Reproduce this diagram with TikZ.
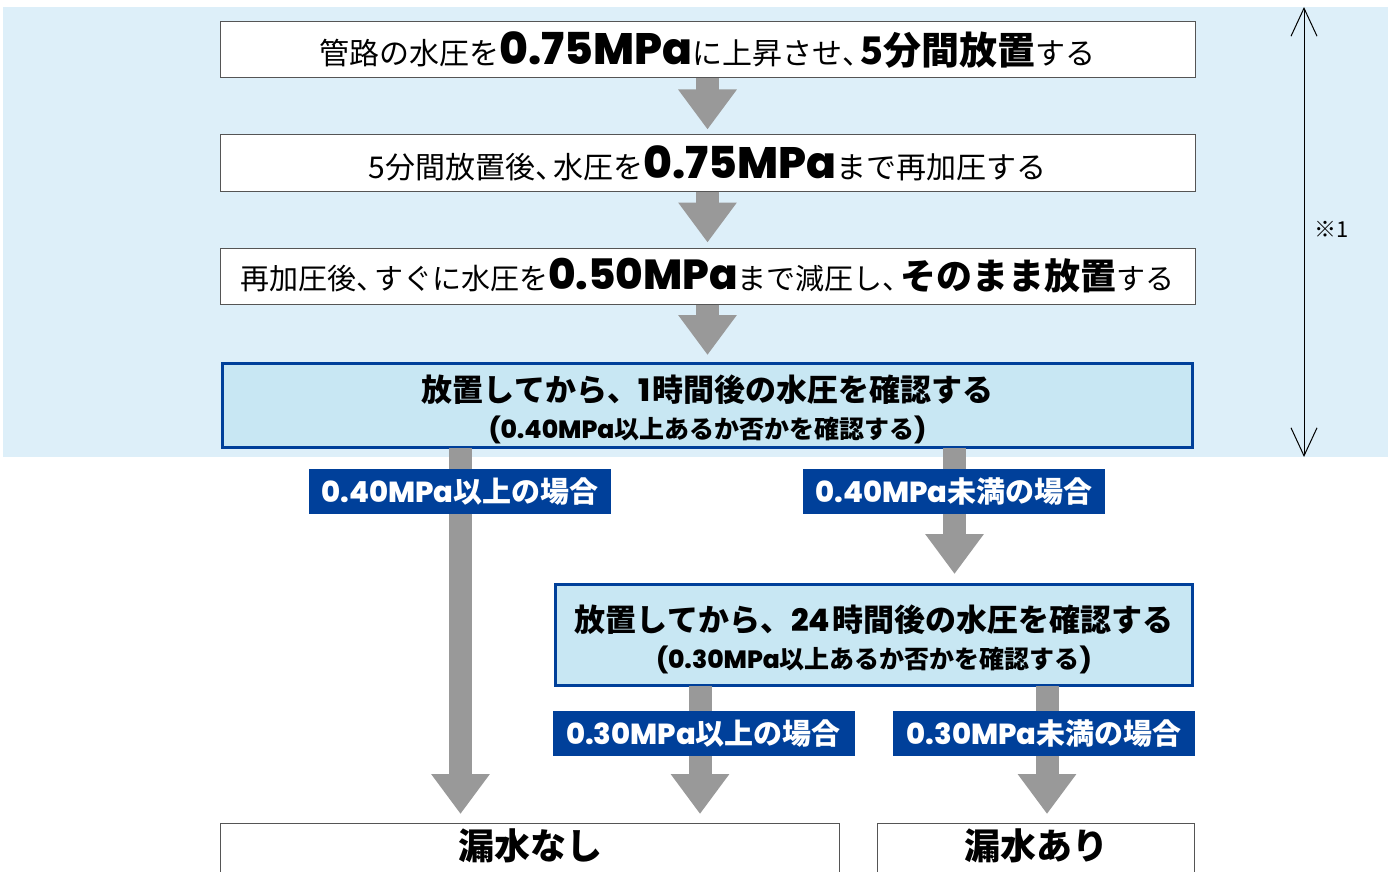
\documentclass[tikz,border=0pt]{standalone}
\usepackage{fontspec}
\setmainfont{Noto Sans CJK JP}
\IfFontExistsTF{Noto Sans CJK JP Black}
  {\newfontfamily\heavy{Noto Sans CJK JP Black}}
  {\newfontfamily\heavy{Noto Sans CJK JP}[UprightFont=*, BoldFont=*]\let\oldheavy\heavy\renewcommand\heavy{\oldheavy\bfseries}}
\IfFontExistsTF{Poppins ExtraBold}
  {\newfontfamily\pop{Poppins ExtraBold}}
  {\newfontfamily\popb{Poppins}\newcommand\pop{\popb\bfseries}}
\usetikzlibrary{arrows.meta}
\definecolor{bgblue}{HTML}{DDEFF9}
\definecolor{boxblue}{HTML}{C8E7F3}
\definecolor{dblue}{HTML}{00409A}
\definecolor{agray}{HTML}{999999}
\definecolor{bordergray}{HTML}{555555}
\newcommand\fsz[1]{\fontsize{#1}{#1}\selectfont}
\newcommand\lat[2]{{\pop\fsz{#1}#2}}
\newcommand\bj[2]{{\heavy\fsz{#1}#2}}
\newcommand\tc{、\kern-0.4em}
\tikzset{
  stepbox/.style={draw=bordergray, fill=white, line width=1pt, minimum width=975pt, minimum height=56pt, inner sep=0pt, font=\fsz{30}},
  checkbox/.style={draw=dblue, fill=boxblue, line width=3pt, inner sep=0pt},
  checktext/.style={align=center, inner sep=0pt, font={\fontsize{24}{37}\selectfont}},
  tag/.style={fill=dblue, text=white, minimum width=302pt, minimum height=45pt, inner sep=0pt},
  endbox/.style={draw=bordergray, fill=white, line width=1pt, minimum height=70pt, inner sep=0pt},
  flow/.style={draw=agray, line width=23pt, -{Triangle[width=56pt,length=40pt]}},
  span/.style={draw=black, line width=1pt, {Straight Barb[length=28pt,width=26pt]}-{Straight Barb[length=28pt,width=26pt]}},
}
\begin{document}
\begin{tikzpicture}[x=1pt,y=-1pt]
\clip (0,0) rectangle (1392,872);
\fill[white] (0,0) rectangle (1392,872);
\fill[bgblue] (3,7) rectangle (1388,457);

\node[stepbox] (s1) at (707.5,50) {管路の水圧を\lat{44}{0.75MPa}に上昇させ\tc\bj{38}{5分間放置}する};
\node[stepbox] (s2) at (707.5,163) {5分間放置後\tc 水圧を\lat{44}{0.75MPa}まで再加圧する};
\node[stepbox, font=\fsz{29}] (s3) at (707.5,276) {再加圧後\tc すぐに水圧を\lat{42}{0.50MPa}まで減圧し\tc\bj{36}{そのまま放置}する};

\node[checkbox, minimum width=970pt, minimum height=84pt] (c1) at (707.5,405.5) {};
\node[checktext] (c1t) at ([yshift=-4pt]c1.center)
  {\bj{31}{放置してから、\lat{31}{1}\kern2pt 時間後の水圧を確認する}\\\bj{25}{\lat{25}{(0.40MPa}以上あるか否かを確認する\lat{25}{)}}};
\node[checkbox, minimum width=637pt, minimum height=101pt] (c2) at (874,635) {};
\node[checktext] (c2t) at ([yshift=-4pt]c2.center)
  {\bj{31}{放置してから、\lat{31}{24}\kern2pt 時間後の水圧を確認する}\\\bj{25}{\lat{25}{(0.30MPa}以上あるか否かを確認する\lat{25}{)}}};

\node[endbox, minimum width=619pt, anchor=north] (e1) at (530,822.5) {};
\node[anchor=north] (e1t) at (530,825) {\bj{36}{漏水なし}};
\node[endbox, minimum width=317pt, anchor=north] (e2) at (1036,822.5) {};
\node[anchor=north] (e2t) at (1036,825) {\bj{36}{漏水あり}};

\coordinate (a1) at (s1.south);
\coordinate (a2) at (s2.south);
\coordinate (a3) at (s3.south);
\draw[flow] (a1) -- ([yshift=5pt]s2.north);
\draw[flow] (a2) -- ([yshift=5pt]s3.north);
\draw[flow] (a3) -- ([yshift=7pt]c1.north);

\coordinate (l1) at (460.5,448);
\coordinate (r1) at (954.5,448);
\coordinate (l2) at (700,686);
\coordinate (r2) at (1047,686);
\coordinate (l1e) at (460.5,814);
\coordinate (r1e) at (954.5,574);
\coordinate (l2e) at (700,814);
\coordinate (r2e) at (1047,814);
\draw[flow] (l1) -- (l1e);
\draw[flow] (r1) -- (r1e);
\draw[flow] (l2) -- (l2e);
\draw[flow] (r2) -- (r2e);

\node[tag] (t1) at (460,491.5) {\lat{29}{0.40MPa}\bj{29}{以上の場合}};
\node[tag] (t2) at (954,491.5) {\lat{29}{0.40MPa}\bj{29}{未満の場合}};
\node[tag] (t3) at (703.5,733.5) {\lat{29}{0.30MPa}\bj{29}{以上の場合}};
\node[tag] (t4) at (1044,733.5) {\lat{29}{0.30MPa}\bj{29}{未満の場合}};

\coordinate (sp1) at (1304,7);
\coordinate (sp2) at (1304,457);
\draw[span] (sp1) -- (sp2);
\node[font=\fsz{22}] (note) at (1332,229) {※1};
\end{tikzpicture}
\end{document}
